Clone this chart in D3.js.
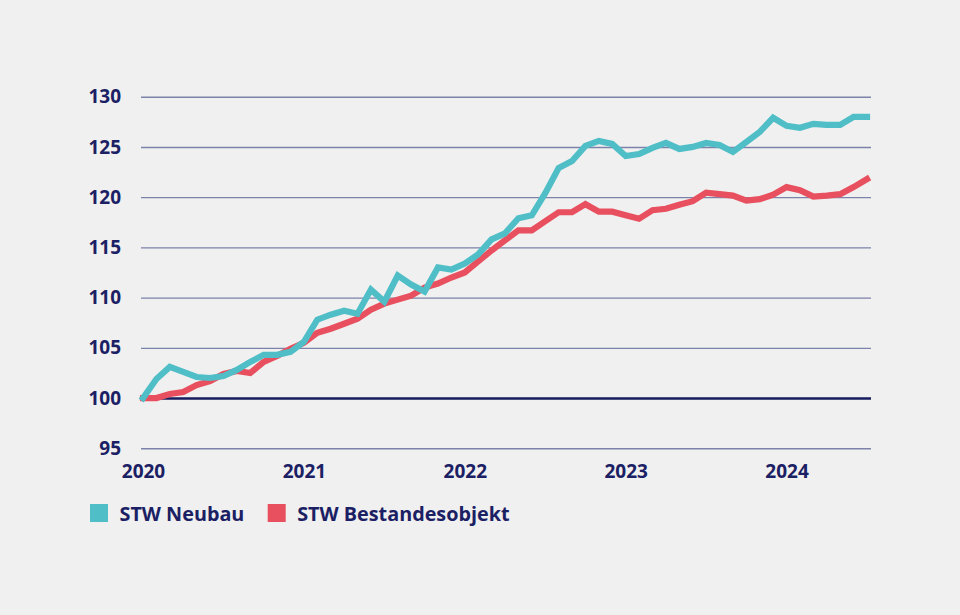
<!DOCTYPE html>
<html>
<head>
<meta charset="utf-8">
<script src="https://cdn.jsdelivr.net/npm/d3@7"></script>
<style>
  html, body { margin: 0; padding: 0; background: #eff0ef; }
  svg { display: block; font-family: "Open Sans", sans-serif; }
</style>
</head>
<body>
<svg id="chart" width="960" height="615"></svg>
<script>
// ---- data ----
const months = [
  "2020-01","2020-02","2020-03","2020-04","2020-05","2020-06","2020-07","2020-08","2020-09","2020-10","2020-11","2020-12",
  "2021-01","2021-02","2021-03","2021-04","2021-05","2021-06","2021-07","2021-08","2021-09","2021-10","2021-11","2021-12",
  "2022-01","2022-02","2022-03","2022-04","2022-05","2022-06","2022-07","2022-08","2022-09","2022-10","2022-11","2022-12",
  "2023-01","2023-02","2023-03","2023-04","2023-05","2023-06","2023-07","2023-08","2023-09","2023-10","2023-11","2023-12",
  "2024-01","2024-02","2024-03","2024-04","2024-05","2024-06","2024-07"
];
const neubau = [
  100.0,101.9,103.1,102.6,102.1,102.0,102.2,102.8,103.6,104.3,104.3,104.6,
  105.6,107.8,108.3,108.7,108.4,110.8,109.6,112.2,111.3,110.6,113.0,112.8,
  113.4,114.3,115.8,116.4,117.9,118.2,120.4,122.9,123.6,125.1,125.6,125.3,
  124.1,124.3,124.9,125.4,124.8,125.0,125.4,125.2,124.5,125.5,126.5,127.9,
  127.1,126.9,127.3,127.2,127.2,128.0,128.0
];
const bestand = [
  100.0,100.0,100.4,100.6,101.3,101.7,102.4,102.7,102.5,103.6,104.2,104.9,
  105.5,106.5,106.9,107.4,107.9,108.8,109.4,109.8,110.2,111.0,111.4,112.0,
  112.5,113.6,114.7,115.7,116.7,116.7,117.6,118.5,118.5,119.3,118.55,118.55,
  118.2,117.85,118.7,118.85,119.25,119.6,120.45,120.3,120.15,119.65,119.8,120.25,
  121.0,120.7,120.05,120.15,120.3,121.0,121.8
];
const yTicks = [95,100,105,110,115,120,125,130];
const xTickMonths = ["2020-01","2021-01","2022-01","2023-01","2024-01"];
const xTickLabels = ["2020","2021","2022","2023","2024"];
const seriesNames = ["STW Neubau","STW Bestandesobjekt"];
const seriesColors = ["#4fbec6","#e9505f"];

// ---- layout ----
const svg = d3.select("#chart");
const textColor = "#1b2064";
const gridLeft = 141, gridRight = 871;

const x = d3.scalePoint().domain(months).range([143, 867]);
const y = d3.scaleLinear().domain([95,130]).range([448.3, 96.7]);

// grid + y labels
const yAxis = d3.axisLeft(y).tickValues(yTicks)
  .tickSize(-(gridRight - gridLeft)).tickPadding(20).tickFormat(d3.format("d"));
const gy = svg.append("g").attr("transform", `translate(${gridLeft},0)`).call(yAxis);
gy.select(".domain").remove();
gy.selectAll(".tick line")
  .attr("stroke", d => d === 100 ? "#171c5e" : "#7d82aa")
  .attr("stroke-width", d => d === 100 ? 2.6 : 1.4);
gy.selectAll(".tick text")
  .attr("fill", textColor).attr("font-size", 19).attr("font-weight", 700)
  .attr("font-family", "'Open Sans', sans-serif");
gy.selectAll(".tick").filter(d => d === 100).raise();

// x labels
const xAxis = d3.axisBottom(x).tickValues(xTickMonths).tickSize(0).tickPadding(17)
  .tickFormat((d) => xTickLabels[xTickMonths.indexOf(d)]);
const gx = svg.append("g").attr("transform", "translate(0,448)").call(xAxis);
gx.select(".domain").remove();
gx.selectAll(".tick text")
  .attr("fill", textColor).attr("font-size", 19).attr("font-weight", 700)
  .attr("font-family", "'Open Sans', sans-serif");

// lines
const line = d3.line().x((d, i) => x(months[i])).y(d => y(d));
[bestand, neubau].forEach((s, k) => {
  svg.append("path")
    .datum(s)
    .attr("fill", "none")
    .attr("stroke", k === 0 ? seriesColors[1] : seriesColors[0])
    .attr("stroke-width", 6.2)
    .attr("stroke-linejoin", "miter")
    .attr("stroke-linecap", "square")
    .attr("d", line);
});

// legend
const legendX = [90, 267.7];
seriesNames.forEach((name, i) => {
  const g = svg.append("g").attr("transform", `translate(${legendX[i]},504)`);
  g.append("rect").attr("width", 18).attr("height", 18).attr("fill", seriesColors[i]);
  g.append("text").attr("x", 29.5).attr("y", 17)
    .attr("fill", textColor).attr("font-size", 19.8).attr("font-weight", 700)
    .attr("font-family", "'Open Sans', sans-serif")
    .text(name);
});
</script>
</body>
</html>
